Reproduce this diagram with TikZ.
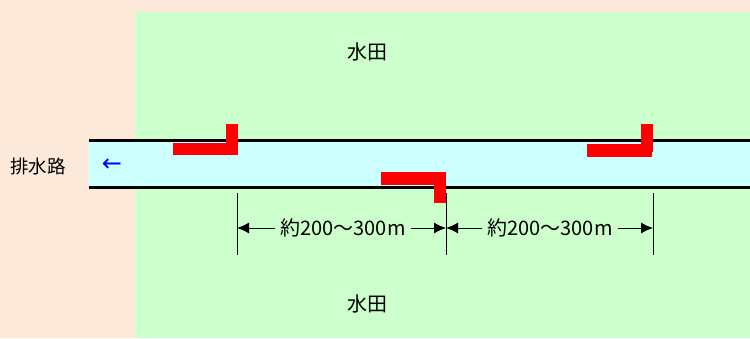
\documentclass[tikz,border=0pt]{standalone}
\usepackage{fontspec}
\setmainfont{Noto Sans CJK JP}
\usetikzlibrary{arrows.meta}
\definecolor{peach}{RGB}{253,233,217}
\definecolor{paddy}{RGB}{204,255,204}
\definecolor{water}{RGB}{204,255,255}
\begin{document}
\begin{tikzpicture}[x=1pt,y=-1pt,
  gate/.style={fill=red,draw=none},
  bank/.style={line width=3pt,draw=black},
  tick/.style={line width=1pt,draw=black},
  dimarrow/.style={line width=1pt,-{Latex[length=12pt,width=11pt]}},
  lbl/.style={font=\fontsize{20}{24}\selectfont,inner sep=0pt,anchor=center}]
\useasboundingbox (0,0) rectangle (750,338);
\fill[peach] (0,0) rectangle (750,338);
\fill[paddy] (135,12) rectangle (750,338);
% channel
\fill[water] (89,140) rectangle (750,187);
\draw[bank] (89,140) -- (750,140);
\draw[bank] (89,187) -- (750,187);
% gates
\fill[gate] (173,143) rectangle (238,155);
\fill[gate] (226,124) rectangle (238,155);
\fill[gate] (381,172) rectangle (446,185);
\fill[gate] (434,172) rectangle (446,203);
\fill[gate] (587,144) rectangle (652,157);
\fill[gate] (641,124) rectangle (653,152);
% labels
\node[lbl] (p1) at (367,52) {水田};
\node[lbl] (p2) at (367,304) {水田};
\node[lbl,font=\fontsize{18.5}{22}\selectfont] (drain) at (38,166) {排水路};
\node[lbl,text=blue] (flow) at (112,165) {\fontspec{DejaVu Sans}\fontsize{24}{28}\selectfont ←};
% dimension ticks
\coordinate (a1) at (237,193); \coordinate (a2) at (237,255);
\coordinate (b1) at (446,193); \coordinate (b2) at (446,255);
\coordinate (c1) at (653,193); \coordinate (c2) at (653,255);
\draw[tick] (a1) -- (a2);
\draw[tick] (b1) -- (b2);
\draw[tick] (c1) -- (c2);
\coordinate (am) at (237,228);
\coordinate (bm) at (446,228);
\coordinate (cm) at (653,228);
\node[lbl,inner xsep=5pt] (d1) at (343,228) {約200～300m};
\node[lbl,inner xsep=5pt] (d2) at (550,228) {約200～300m};
\draw[dimarrow] (d1.west) -- (am);
\draw[dimarrow] (d1.east) -- (bm);
\draw[dimarrow] (d2.west) -- (bm);
\draw[dimarrow] (d2.east) -- (cm);
\end{tikzpicture}
\end{document}
